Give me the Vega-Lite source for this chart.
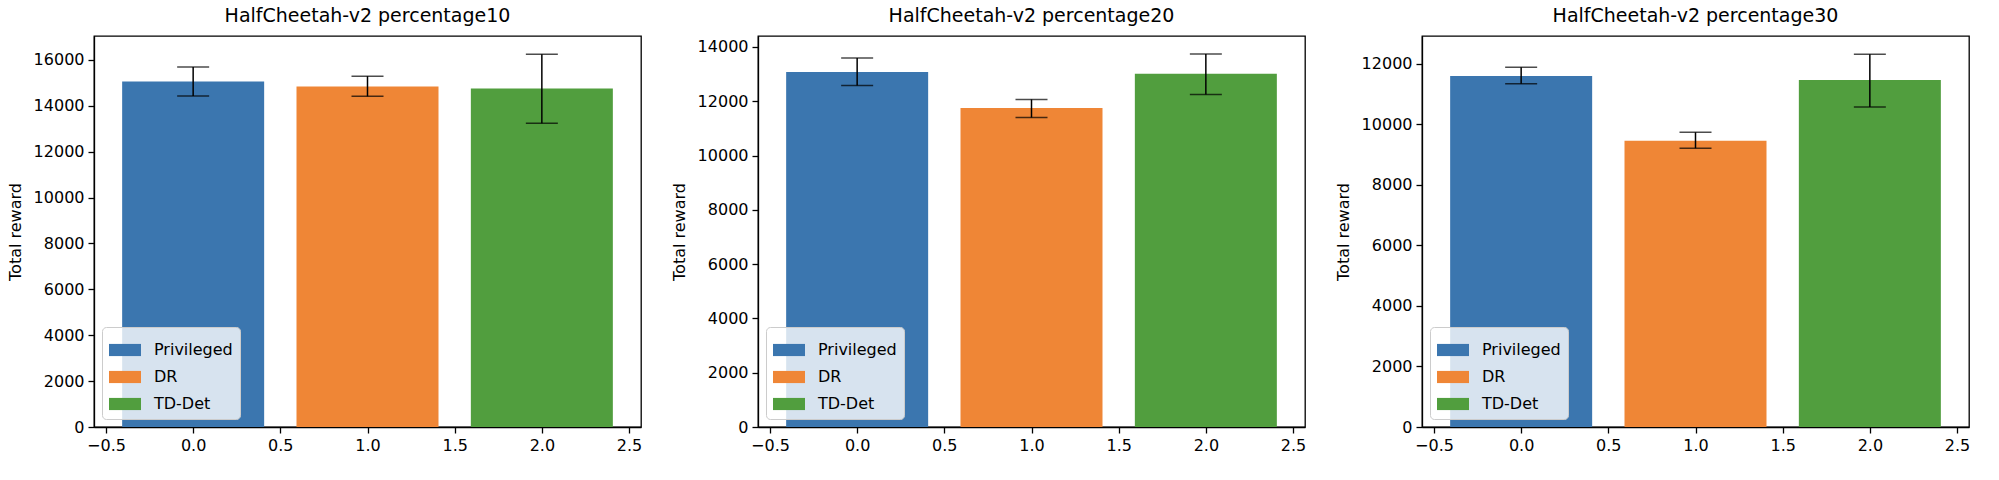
{
  "$schema": "https://vega.github.io/schema/vega-lite/v6.json",
  "padding": {"left": 6, "top": 6, "right": 0, "bottom": 0},
  "background": "white",
  "data": {
    "values": [
      {"panel": "percentage10", "method": "Privileged", "x": 0, "mean": 15060, "lo": 14420, "hi": 15690},
      {"panel": "percentage10", "method": "DR", "x": 1, "mean": 14840, "lo": 14410, "hi": 15290},
      {"panel": "percentage10", "method": "TD-Det", "x": 2, "mean": 14750, "lo": 13240, "hi": 16250},
      {"panel": "percentage20", "method": "Privileged", "x": 0, "mean": 13080, "lo": 12580, "hi": 13590},
      {"panel": "percentage20", "method": "DR", "x": 1, "mean": 11750, "lo": 11400, "hi": 12070},
      {"panel": "percentage20", "method": "TD-Det", "x": 2, "mean": 13010, "lo": 12250, "hi": 13740},
      {"panel": "percentage30", "method": "Privileged", "x": 0, "mean": 11600, "lo": 11350, "hi": 11890},
      {"panel": "percentage30", "method": "DR", "x": 1, "mean": 9460, "lo": 9215, "hi": 9743},
      {"panel": "percentage30", "method": "TD-Det", "x": 2, "mean": 11470, "lo": 10580, "hi": 12320}
    ]
  },
  "spacing": 117,
  "bounds": "flush",
  "resolve": {"legend": {"color": "independent"}},
  "hconcat": [
    {
      "width": 547,
      "height": 391,
      "title": "HalfCheetah-v2 percentage10",
      "transform": [{"filter": "datum.panel == 'percentage10'"}],
      "encoding": {
        "x": {"field": "x", "type": "quantitative", "title": null,
              "scale": {"domain": [-0.54, 2.54], "nice": false, "zero": false},
              "axis": {"values": [-0.5, 0, 0.5, 1, 1.5, 2, 2.5], "format": ".1f"}}
      },
      "layer": [
        {
          "mark": {"type": "bar", "size": 142},
          "encoding": {
            "y": {"field": "mean", "type": "quantitative", "title": "Total reward",
                  "scale": {"domain": [0, 17040], "nice": false},
                  "axis": {"values": [0, 2000, 4000, 6000, 8000, 10000, 12000, 14000, 16000], "format": "d"}},
            "color": {"field": "method", "type": "nominal",
                      "scale": {"domain": ["Privileged", "DR", "TD-Det"], "range": ["#3b76af", "#ef8636", "#519e3e"]},
                      "legend": {"title": null}}
          }
        },
        {
          "mark": {"type": "rule", "color": "black", "strokeWidth": 1.5},
          "encoding": {"y": {"field": "lo", "type": "quantitative"}, "y2": {"field": "hi"}}
        },
        {
          "mark": {"type": "tick", "orient": "horizontal", "size": 32, "thickness": 1.5, "color": "black"},
          "encoding": {"y": {"field": "lo", "type": "quantitative"}}
        },
        {
          "mark": {"type": "tick", "orient": "horizontal", "size": 32, "thickness": 1.5, "color": "black"},
          "encoding": {"y": {"field": "hi", "type": "quantitative"}}
        }
      ]
    },
    {
      "width": 547,
      "height": 391,
      "title": "HalfCheetah-v2 percentage20",
      "transform": [{"filter": "datum.panel == 'percentage20'"}],
      "encoding": {
        "x": {"field": "x", "type": "quantitative", "title": null,
              "scale": {"domain": [-0.54, 2.54], "nice": false, "zero": false},
              "axis": {"values": [-0.5, 0, 0.5, 1, 1.5, 2, 2.5], "format": ".1f"}}
      },
      "layer": [
        {
          "mark": {"type": "bar", "size": 142},
          "encoding": {
            "y": {"field": "mean", "type": "quantitative", "title": "Total reward",
                  "scale": {"domain": [0, 14405], "nice": false},
                  "axis": {"values": [0, 2000, 4000, 6000, 8000, 10000, 12000, 14000], "format": "d"}},
            "color": {"field": "method", "type": "nominal",
                      "scale": {"domain": ["Privileged", "DR", "TD-Det"], "range": ["#3b76af", "#ef8636", "#519e3e"]},
                      "legend": {"title": null}}
          }
        },
        {
          "mark": {"type": "rule", "color": "black", "strokeWidth": 1.5},
          "encoding": {"y": {"field": "lo", "type": "quantitative"}, "y2": {"field": "hi"}}
        },
        {
          "mark": {"type": "tick", "orient": "horizontal", "size": 32, "thickness": 1.5, "color": "black"},
          "encoding": {"y": {"field": "lo", "type": "quantitative"}}
        },
        {
          "mark": {"type": "tick", "orient": "horizontal", "size": 32, "thickness": 1.5, "color": "black"},
          "encoding": {"y": {"field": "hi", "type": "quantitative"}}
        }
      ]
    },
    {
      "width": 547,
      "height": 391,
      "title": "HalfCheetah-v2 percentage30",
      "transform": [{"filter": "datum.panel == 'percentage30'"}],
      "encoding": {
        "x": {"field": "x", "type": "quantitative", "title": null,
              "scale": {"domain": [-0.54, 2.54], "nice": false, "zero": false},
              "axis": {"values": [-0.5, 0, 0.5, 1, 1.5, 2, 2.5], "format": ".1f"}}
      },
      "layer": [
        {
          "mark": {"type": "bar", "size": 142},
          "encoding": {
            "y": {"field": "mean", "type": "quantitative", "title": "Total reward",
                  "scale": {"domain": [0, 12925], "nice": false},
                  "axis": {"values": [0, 2000, 4000, 6000, 8000, 10000, 12000], "format": "d"}},
            "color": {"field": "method", "type": "nominal",
                      "scale": {"domain": ["Privileged", "DR", "TD-Det"], "range": ["#3b76af", "#ef8636", "#519e3e"]},
                      "legend": {"title": null}}
          }
        },
        {
          "mark": {"type": "rule", "color": "black", "strokeWidth": 1.5},
          "encoding": {"y": {"field": "lo", "type": "quantitative"}, "y2": {"field": "hi"}}
        },
        {
          "mark": {"type": "tick", "orient": "horizontal", "size": 32, "thickness": 1.5, "color": "black"},
          "encoding": {"y": {"field": "lo", "type": "quantitative"}}
        },
        {
          "mark": {"type": "tick", "orient": "horizontal", "size": 32, "thickness": 1.5, "color": "black"},
          "encoding": {"y": {"field": "hi", "type": "quantitative"}}
        }
      ]
    }
  ],
  "config": {
    "font": "DejaVu Sans",
    "view": {"stroke": "black", "strokeWidth": 1.3},
    "title": {"fontSize": 19, "fontWeight": "normal", "color": "black", "offset": 10, "anchor": "middle"},
    "axis": {
      "grid": false,
      "domainColor": "black",
      "domainWidth": 1.3,
      "tickColor": "black",
      "tickWidth": 1.3,
      "tickSize": 6,
      "labelColor": "black",
      "labelFontSize": 16,
      "labelPadding": 4,
      "titleColor": "black",
      "titleFontSize": 16,
      "titleFontWeight": "normal",
      "titlePadding": 10
    },
    "legend": {
      "orient": "bottom-left",
      "offset": 8,
      "padding": 7,
      "fillColor": "rgba(255,255,255,0.8)",
      "strokeColor": "#cccccc",
      "cornerRadius": 4,
      "symbolType": "M-1,-0.38H1V0.38H-1Z",
      "symbolSize": 1024,
      "symbolStrokeWidth": 0,
      "symbolOpacity": 1,
      "labelFontSize": 16,
      "labelColor": "black",
      "labelOffset": 13,
      "rowPadding": 3
    }
  }
}
